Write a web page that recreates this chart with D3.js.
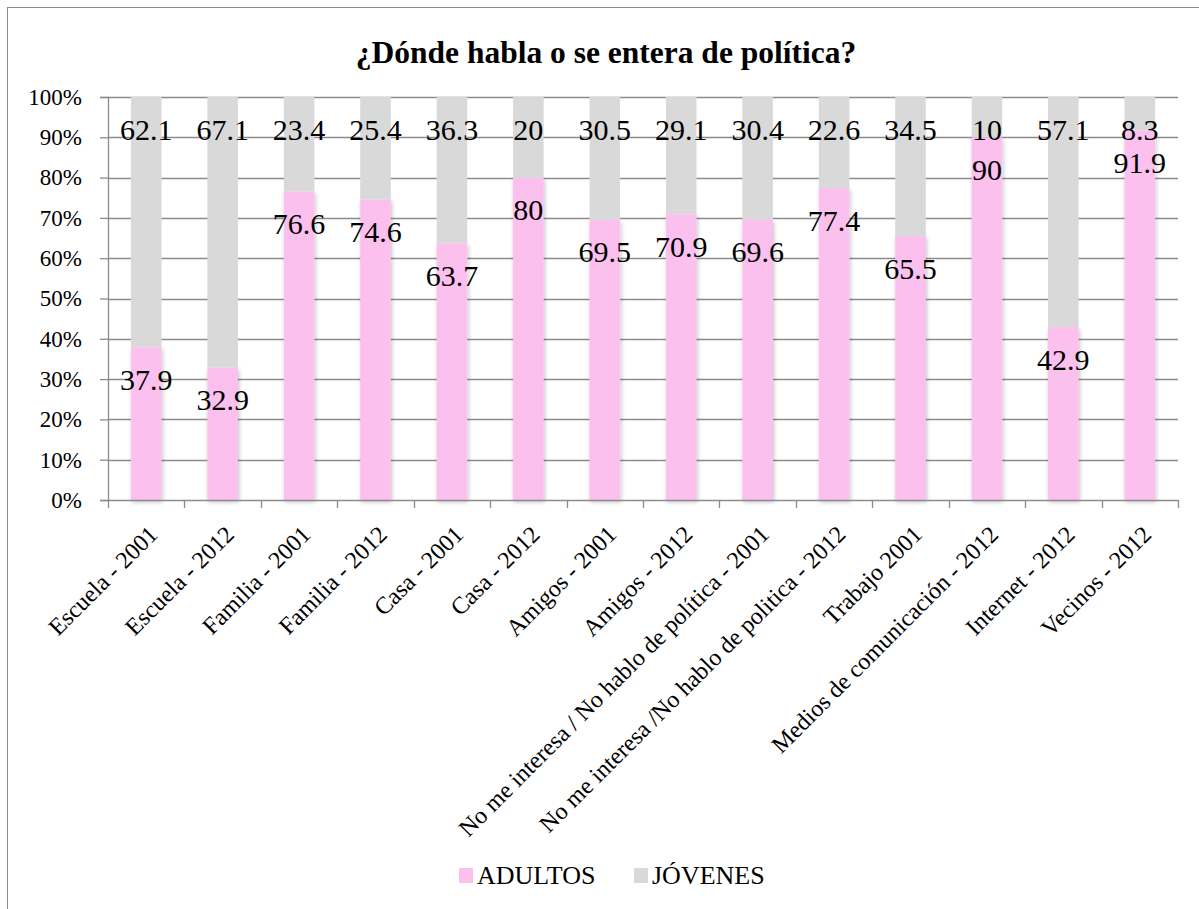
<!DOCTYPE html>
<html>
<head>
<meta charset="utf-8">
<script src="https://cdn.jsdelivr.net/npm/d3@7"></script>
<style>
  body { margin: 0; background: #fff; }
  svg { display: block; }
  svg text { font-family: "Liberation Serif", "Times New Roman", serif; }
</style>
</head>
<body>
<svg id="chart" width="1199" height="909"></svg>
<script>
// chart values
const categories = [
    'Escuela - 2001', 'Escuela - 2012', 'Familia - 2001', 'Familia - 2012',
    'Casa - 2001', 'Casa - 2012', 'Amigos - 2001', 'Amigos - 2012',
    'No me interesa / No hablo de política - 2001',
    'No me interesa /No hablo de politica - 2012',
    'Trabajo 2001', 'Medios de comunicación - 2012', 'Internet - 2012', 'Vecinos - 2012'
]
const adultos = [37.9, 32.9, 76.6, 74.6, 63.7, 80, 69.5, 70.9, 69.6, 77.4, 65.5, 90, 42.9, 91.9]
const jovenes = [62.1, 67.1, 23.4, 25.4, 36.3, 20, 30.5, 29.1, 30.4, 22.6, 34.5, 10, 57.1, 8.3]
const seriesNames = ['ADULTOS', 'JÓVENES']
const seriesColors = ['#fcc0ee', '#d9d9d9']
const yTicks = [0, 0.1, 0.2, 0.3, 0.4, 0.5, 0.6, 0.7, 0.8, 0.9, 1]

const serif = '"Liberation Serif", "Times New Roman", serif'
const svg = d3.select('#chart')

// outer chart border (cut at right and bottom like the picture)
svg.append('rect')
    .attr('x', 7.5).attr('y', 7.5)
    .attr('width', 1210).attr('height', 920)
    .attr('fill', 'none')
    .attr('stroke', '#8c8c8c')
    .attr('stroke-width', 1)

const defs = svg.append('defs')
const shadow = defs.append('filter').attr('id', 'shadow')
    .attr('x', '-20%').attr('y', '-5%').attr('width', '150%').attr('height', '115%')
shadow.append('feDropShadow')
    .attr('dx', 1).attr('dy', 2).attr('stdDeviation', 2)
    .attr('flood-color', '#000').attr('flood-opacity', 0.25)

const plotLeft = 108, plotRight = 1178, plotTop = 97, plotBottom = 500

// stacked 100% table
const table = categories.map((c, i) => {
    const total = adultos[i] + jovenes[i]
    return {cat: c, values: [adultos[i], jovenes[i]], shares: [adultos[i] / total, jovenes[i] / total]}
})

const x = d3.scaleBand()
    .domain(categories)
    .range([plotLeft, plotRight])
    .paddingInner(0.6)
    .paddingOuter(0.3)

const xCat = d3.scaleBand().domain(categories).range([plotLeft, plotRight])

const y = d3.scaleLinear().domain([0, 1]).range([plotBottom, plotTop])

svg.append('text')
    .attr('x', 606).attr('y', 63)
    .attr('text-anchor', 'middle')
    .style('font-family', serif)
    .style('font-size', '31.5px')
    .style('font-weight', 'bold')
    .text('¿Dónde habla o se entera de política?')

// gridlines
svg.append('g').selectAll('line')
    .data(yTicks.slice(1))
    .enter().append('line')
        .attr('x1', plotLeft).attr('x2', plotRight)
        .attr('y1', d => Math.round(y(d)) + 0.5)
        .attr('y2', d => Math.round(y(d)) + 0.5)
        .attr('stroke', '#8c8c8c')
        .attr('stroke-width', 1.3)

// y axis
const yAxis = d3.axisLeft(y)
    .tickValues(yTicks)
    .tickFormat(d3.format('.0%'))
    .tickSize(8)
    .tickPadding(18)

const yG = svg.append('g')
    .attr('transform', `translate(${plotLeft},0)`)
    .call(yAxis)
yG.select('.domain').attr('stroke', '#8c8c8c').attr('stroke-width', 1.3)
yG.selectAll('.tick line').attr('stroke', '#8c8c8c').attr('stroke-width', 1.3)
yG.selectAll('.tick text')
    .attr('fill', '#000')
    .style('font-size', '23px')
    .style('font-family', serif)

// bars
const stackG = svg.append('g')
seriesNames.forEach((name, s) => {
    stackG.append('g').selectAll('rect')
        .data(table)
        .enter().append('rect')
            .attr('x', d => x(d.cat))
            .attr('width', x.bandwidth())
            .attr('y', d => y(d3.sum(d.shares.slice(0, s + 1))))
            .attr('height', d => y(d3.sum(d.shares.slice(0, s))) - y(d3.sum(d.shares.slice(0, s + 1))))
            .attr('fill', seriesColors[s])
            .attr('filter', s === 0 ? 'url(#shadow)' : null)
})

// x axis
const xAxis = d3.axisBottom(xCat).tickSize(0).tickFormat('')
const xG = svg.append('g')
    .attr('transform', `translate(0,${plotBottom})`)
    .call(xAxis)
xG.select('.domain').attr('stroke', '#8c8c8c').attr('stroke-width', 1.3)

svg.append('g').selectAll('line')
    .data(d3.range(categories.length + 1))
    .enter().append('line')
        .attr('x1', i => Math.round(plotLeft + i * xCat.step()) + 0.5)
        .attr('x2', i => Math.round(plotLeft + i * xCat.step()) + 0.5)
        .attr('y1', plotBottom).attr('y2', plotBottom + 8)
        .attr('stroke', '#8c8c8c')
        .attr('stroke-width', 1.3)

svg.append('g').selectAll('text')
    .data(categories)
    .enter().append('text')
        .attr('transform', d => `translate(${xCat(d) + xCat.bandwidth() / 2 + 1},${plotBottom + 24}) rotate(-45)`)
        .attr('text-anchor', 'end')
        .attr('dy', '0.7em')
        .style('font-family', serif)
        .style('font-size', '24px')
        .text(d => d)

// data labels, inside end of each segment
seriesNames.forEach((name, s) => {
    svg.append('g').selectAll('text')
        .data(table)
        .enter().append('text')
            .attr('x', d => x(d.cat) + x.bandwidth() / 2)
            .attr('y', d => y(d3.sum(d.shares.slice(0, s + 1))) + 32)
            .attr('dy', '0.35em')
            .attr('text-anchor', 'middle')
            .style('font-family', serif)
            .style('font-size', '30px')
            .text(d => d.values[s])
})

// legend
const legendX = [459, 634]
const legend = svg.append('g')
seriesNames.forEach((name, s) => {
    legend.append('rect')
        .attr('x', legendX[s]).attr('y', 868)
        .attr('width', 14).attr('height', 15)
        .attr('fill', seriesColors[s])
    legend.append('text')
        .attr('x', legendX[s] + 18).attr('y', 884)
        .style('font-family', serif)
        .style('font-size', '26px')
        .text(name)
})
</script>
</body>
</html>
